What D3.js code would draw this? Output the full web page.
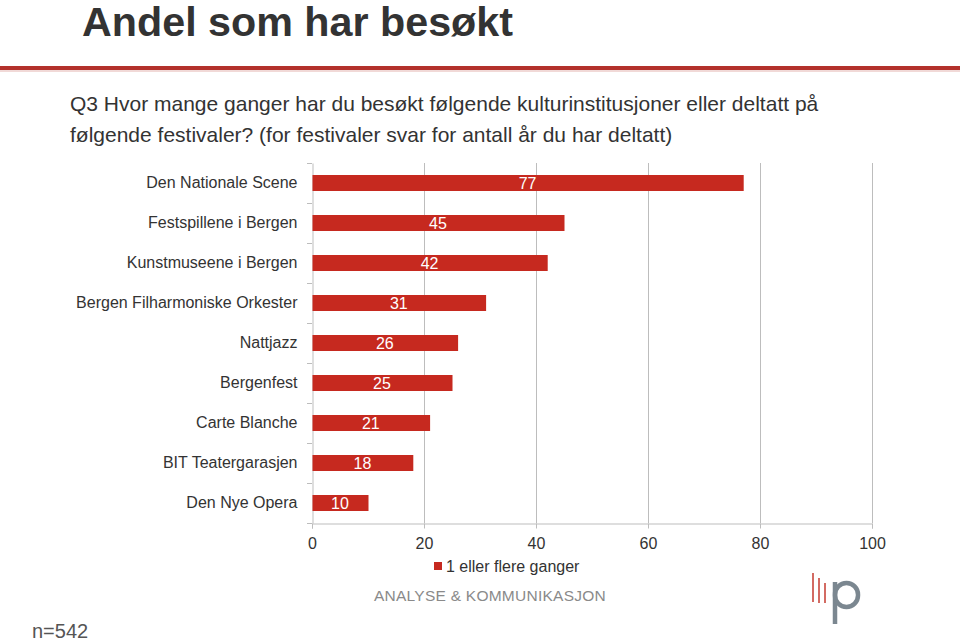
<!DOCTYPE html>
<html><head><meta charset="utf-8">
<script src="https://cdn.jsdelivr.net/npm/d3@7"></script>
<style>body{margin:0;background:#fff;}svg{display:block;font-family:"Liberation Sans",Arial,sans-serif;}</style>
</head><body>
<script>
const categories = ["Den Nationale Scene","Festspillene i Bergen","Kunstmuseene i Bergen","Bergen Filharmoniske Orkester","Nattjazz","Bergenfest","Carte Blanche","BIT Teatergarasjen","Den Nye Opera"];
const values = [77,45,42,31,26,25,21,18,10];
const ticks = [0,20,40,60,80,100];
const seriesName = "1 eller flere ganger";

const W=960,H=643;
const svg=d3.select("body").append("svg").attr("width",W).attr("height",H);

svg.append("text").attr("x",82).attr("y",36).attr("font-size",40).attr("font-weight","bold").attr("fill","#333")
  .attr("textLength",431).attr("lengthAdjust","spacingAndGlyphs").text("Andel som har besøkt");
svg.append("rect").attr("x",0).attr("y",66).attr("width",W).attr("height",4).attr("fill","#b3312b");
svg.append("rect").attr("x",0).attr("y",70).attr("width",W).attr("height",2).attr("fill","#f1d9d7");

svg.append("text").attr("x",70).attr("y",111).attr("font-size",21).attr("fill","#333").text("Q3 Hvor mange ganger har du besøkt følgende kulturinstitusjoner eller deltatt på");
svg.append("text").attr("x",70).attr("y",142).attr("font-size",21).attr("fill","#333").text("følgende festivaler? (for festivaler svar for antall år du har deltatt)");

const x=d3.scaleLinear().domain([0,100]).range([312,872]);
const yb=d3.scaleBand().domain(categories).range([163,523]);

// gridlines
svg.append("g").selectAll("line").data(ticks.slice(1)).join("line")
  .attr("x1",d=>x(d)+0.5).attr("x2",d=>x(d)+0.5).attr("y1",163).attr("y2",523)
  .attr("stroke","#bdbdbd").attr("stroke-width",1);

// x axis
const xa=svg.append("g").attr("transform","translate(0,523.5)").call(d3.axisBottom(x).tickValues(ticks).tickSize(5).tickPadding(9));
xa.select(".domain").attr("stroke","#bdbdbd");
xa.selectAll(".tick line").attr("stroke","#bdbdbd");
xa.selectAll("text").attr("font-size",16).attr("fill","#333").attr("font-family","Liberation Sans, Arial, sans-serif");

// y axis
const ya=svg.append("g").attr("transform","translate(312.5,0)").call(d3.axisLeft(yb).tickSize(0).tickPadding(15));
ya.select(".domain").attr("stroke","#bdbdbd");
ya.selectAll("text").attr("font-size",16).attr("fill","#333").attr("font-family","Liberation Sans, Arial, sans-serif");
svg.append("g").selectAll("line").data(d3.range(categories.length+1)).join("line")
  .attr("x1",307).attr("x2",312).attr("y1",i=>163+i*yb.step()+0.5).attr("y2",i=>163+i*yb.step()+0.5)
  .attr("stroke","#bdbdbd");

// bars
svg.append("g").selectAll("rect").data(values).join("rect")
  .attr("x",x(0)+0.5).attr("y",(d,i)=>yb(categories[i])+yb.bandwidth()/2-8)
  .attr("width",d=>x(d)-x(0)).attr("height",16).attr("fill","#c6291f");
svg.append("g").selectAll("text").data(values).join("text")
  .attr("x",d=>(x(0)+x(d))/2).attr("y",(d,i)=>yb(categories[i])+yb.bandwidth()/2+6)
  .attr("text-anchor","middle").attr("font-size",16).attr("fill","#fff").text(d=>d);

// legend
svg.append("rect").attr("x",434).attr("y",562).attr("width",8).attr("height",8).attr("fill","#c6291f");
svg.append("text").attr("x",446).attr("y",572).attr("font-size",16).attr("fill","#333").text(seriesName);

// footer
svg.append("text").attr("x",374).attr("y",601).attr("font-size",15.5).attr("fill","#8a8a8a").attr("letter-spacing",0.25).text("ANALYSE & KOMMUNIKASJON");
const lg=svg.append("g");
[[813,573,602],[819,578,603],[825,583,603]].forEach(([lx,y1,y2])=>lg.append("line").attr("x1",lx).attr("x2",lx).attr("y1",y1).attr("y2",y2).attr("stroke","#c8463c").attr("stroke-width",1.6));
lg.append("line").attr("x1",835).attr("x2",835).attr("y1",582).attr("y2",624).attr("stroke","#7b8790").attr("stroke-width",4.5);
lg.append("rect").attr("x",835).attr("y",583).attr("width",23).attr("height",24).attr("rx",11.5).attr("fill","none").attr("stroke","#7b8790").attr("stroke-width",4.5);

svg.append("text").attr("x",32).attr("y",638).attr("font-size",20).attr("fill","#555").text("n=542");
</script>
</body></html>
